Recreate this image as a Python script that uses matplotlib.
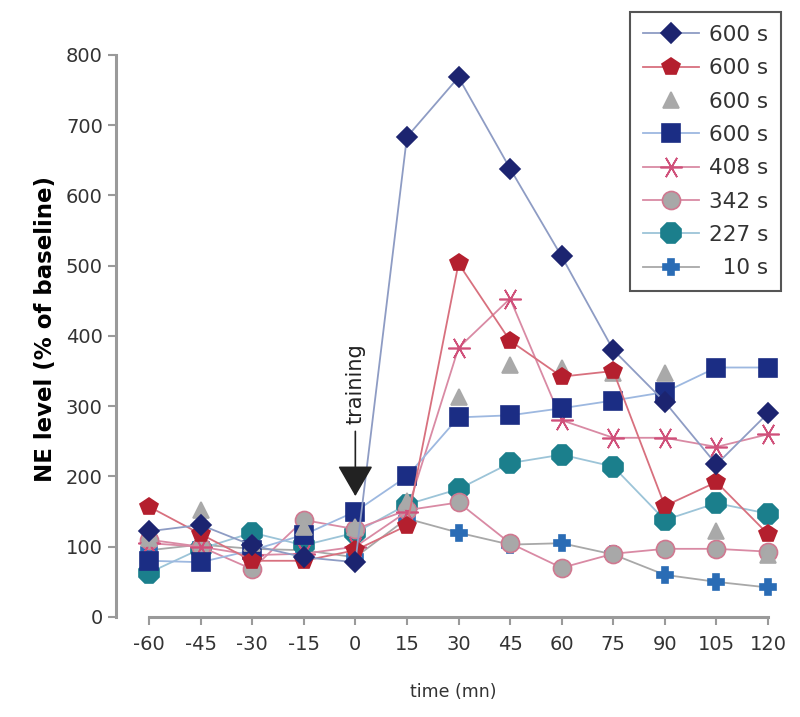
import matplotlib
matplotlib.use("Agg")
import matplotlib.pyplot as plt

plt.rcParams["axes.unicode_minus"] = False

# time points (mn) relative to training
times = [-60, -45, -30, -15, 0, 15, 30, 45, 60, 75, 90, 105, 120]

# NE level, % of baseline, one list per animal
ne_600_diamond = [122, 131, 102, 85, 78, 683, 768, 638, 513, 380, 306, 217, 290]
ne_600_pentagon = [157, 118, 80, 80, 95, 130, 503, 393, 342, 350, 158, 192, 118]
ne_600_triangle = [112, 152, 105, 128, 128, 165, 313, 358, 355, 347, 347, 122, 88]
ne_600_square = [80, 78, 95, 117, 150, 200, 284, 287, 297, 308, 320, 355, 355]
ne_408 = [105, 100, 88, 90, 100, 150, 383, 453, 280, 255, 255, 242, 260]
ne_342 = [110, 100, 68, 138, 125, 152, 163, 105, 70, 90, 97, 97, 93]
ne_227 = [63, 97, 120, 102, 120, 160, 182, 219, 231, 214, 138, 162, 147]
ne_10 = [95, 103, 97, 95, 85, 140, 120, 103, 105, 89, 60, 50, 42]

labels = ["600 s", "600 s", "600 s", "600 s", "408 s", "342 s", "227 s", "  10 s"]

# (data, marker, face colour, edge colour, line colour, marker size)
series = [
    (ne_600_diamond, "D", "#1c2470", "#1c2470", "#8e9cc4", 10.5),
    (ne_600_pentagon, "p", "#b41f2e", "#b41f2e", "#d8707e", 13),
    (ne_600_triangle, "^", "#a9a9a9", "#a9a9a9", "none", 12),
    (ne_600_square, "s", "#1b2d84", "#1b2d84", "#9db8e0", 12.5),
    (ne_408, (6, 2, 90), "#c0305a", "#d0507a", "#d98aa4", 16),
    (ne_342, "o", "#a8a8a8", "#d07890", "#d98aa4", 13),
    (ne_227, "8", "#1b7f8c", "#1b7f8c", "#9cc4d8", 15),
    (ne_10, "P", "#2a6cb5", "#2a6cb5", "#a8a8a8", 12),
]

fig = plt.figure(figsize=(8, 7.17), dpi=100)
ax = fig.add_axes([116 / 800, 100 / 717, 674 / 800, 577 / 717])

handles = []
for i, (vals, mk, fc, ec, lc, ms) in enumerate(series):
    ls = "-" if lc != "none" else "none"
    h, = ax.plot(times, vals, linestyle=ls, color=lc if lc != "none" else fc,
                 linewidth=1.3, marker=mk, markersize=ms, markerfacecolor=fc,
                 markeredgecolor=ec, markeredgewidth=1.2, zorder=20 - i)
    handles.append(h)

ax.set_xlim(-69.6, 126.4)
ax.set_ylim(0, 821)
ax.set_xticks(times)
ax.set_yticks(range(0, 801, 100))

for side in ["top", "right"]:
    ax.spines[side].set_visible(False)
ax.spines["left"].set_bounds(0, 800)
ax.spines["bottom"].set_bounds(-60, 120)
for side in ["left", "bottom"]:
    ax.spines[side].set_color("#9a9a9a")
    ax.spines[side].set_linewidth(2.2)
ax.tick_params(colors="#9a9a9a", labelcolor="#333333", labelsize=14,
               width=1.5, length=6)
ax.tick_params(axis="x", pad=7)

ax.set_ylabel("NE level (% of baseline)", fontsize=16.5, fontweight="bold",
              labelpad=6)
ax.set_xlabel("time (mn)", fontsize=12.5, color="#333333", labelpad=21)

# training arrow
ax.annotate("training", xy=(0, 172), xytext=(0, 274), rotation=90,
            ha="center", va="bottom", fontsize=15, color="#222222",
            arrowprops=dict(arrowstyle="-|>,head_length=1.3,head_width=0.75",
                            color="#222222", linewidth=1.2, shrinkA=3,
                            shrinkB=0), zorder=30)

leg = fig.legend(handles, labels, loc="upper right",
                 bbox_to_anchor=(781 / 800, 1 - 12 / 717), borderaxespad=0,
                 fontsize=15.5, labelspacing=0.62, handlelength=2.6,
                 handletextpad=0.45, fancybox=False, framealpha=1,
                 borderpad=0.6)
leg.get_frame().set_edgecolor("#555555")
leg.get_frame().set_linewidth(1.5)
for t in leg.get_texts():
    t.set_color("#333333")

fig.savefig("out.png", dpi=100)
